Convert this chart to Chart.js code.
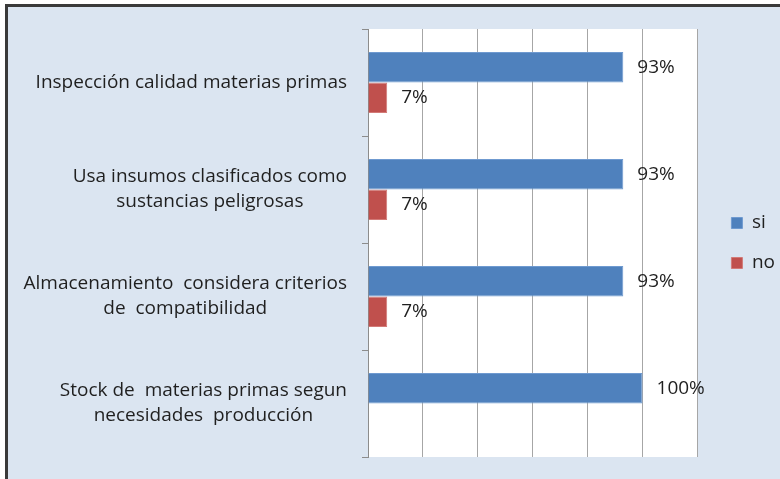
<!DOCTYPE html>
<html>
<head>
<meta charset="utf-8">
<script src="https://cdn.jsdelivr.net/npm/chart.js@4/dist/chart.umd.min.js"></script>
<style>
    html, body { margin: 0; padding: 0; background: #ffffff; overflow: hidden; }
    #frame {
        position: absolute;
        left: 5px;
        top: 4px;
        width: 772px;
        height: 472px;
        overflow: hidden;
        border-top: 3px solid #3a3a3a;
        border-left: 3px solid #3a3a3a;
        background: #dbe5f1;
    }
</style>
</head>
<body>
<div id="frame"><canvas id="myChart" width="783" height="472"></canvas></div>
<script>
const categories = [
    ["Inspección calidad materias primas"],
    ["Usa insumos clasificados como", "sustancias peligrosas"],
    ["Almacenamiento  considera criterios", "de  compatibilidad"],
    ["Stock de  materias primas segun", "necesidades  producción"]
];
const siValues = [0.93, 0.93, 0.93, 1.00];
const noValues = [0.07, 0.07, 0.07, 0];
const seriesNames = ["si", "no"];
const textFont = "'Open Sans', sans-serif";

// fondo blanco del area de trazado
const plotBackground = {
    id: "plotBackground",
    beforeDraw(chart) {
        const a = chart.chartArea;
        const ctx = chart.ctx;
        ctx.save();
        ctx.fillStyle = "#ffffff";
        ctx.fillRect(a.left, a.top, a.right - a.left, a.bottom - a.top);
        ctx.restore();
    }
};

// etiquetas de categoria: bloque alineado a la derecha, lineas centradas
const categoryLabels = {
    id: "categoryLabels",
    afterDraw(chart) {
        const ctx = chart.ctx;
        const yScale = chart.scales.y;
        const rightX = chart.chartArea.left - 21;
        const lineH = 25;
        ctx.save();
        ctx.font = "19px " + textFont;
        ctx.fillStyle = "#1f1f1f";
        ctx.textAlign = "center";
        ctx.textBaseline = "middle";
        categories.forEach((lines, i) => {
            const yc = yScale.getPixelForValue(i);
            let maxW = 0;
            lines.forEach(l => { maxW = Math.max(maxW, ctx.measureText(l).width); });
            const cx = rightX - maxW / 2;
            const y0 = yc - (lines.length - 1) * lineH / 2;
            lines.forEach((l, k) => ctx.fillText(l, cx, y0 + k * lineH));
        });
        ctx.restore();
    }
};

// etiquetas de valor junto a cada barra
const valueLabels = {
    id: "valueLabels",
    afterDatasetsDraw(chart) {
        const ctx = chart.ctx;
        ctx.save();
        ctx.font = "19px " + textFont;
        ctx.fillStyle = "#1f1f1f";
        ctx.textAlign = "left";
        ctx.textBaseline = "middle";
        chart.data.datasets.forEach((ds, di) => {
            chart.getDatasetMeta(di).data.forEach((bar, i) => {
                const v = ds.data[i];
                if (!v) return;
                ctx.fillText(Math.round(v * 100) + "%", bar.x + 14, bar.y);
            });
        });
        ctx.restore();
    }
};

const ctx = document.getElementById("myChart").getContext("2d");
const myChart = new Chart(ctx, {
    type: "bar",
    data: {
        labels: categories,
        datasets: [{
            label: seriesNames[0],
            data: siValues,
            backgroundColor: "#4f81bd",
            borderColor: "#6f9ad0",
            borderWidth: 1
        }, {
            label: seriesNames[1],
            data: noValues,
            backgroundColor: "#c0504d",
            borderColor: "#d27a77",
            borderWidth: 1
        }]
    },
    options: {
        indexAxis: "y",
        responsive: false,
        animation: false,
        layout: { padding: { top: 22, bottom: 22, left: 0, right: 6 } },
        datasets: { bar: { categoryPercentage: 0.57, barPercentage: 1.0 } },
        scales: {
            x: {
                min: 0,
                max: 1.2,
                ticks: { display: false, stepSize: 0.2 },
                grid: { color: "#a6a6a6", lineWidth: 1, drawTicks: false },
                border: { display: false }
            },
            y: {
                ticks: { display: false },
                grid: { display: true, drawOnChartArea: false, offset: true, tickLength: 6, color: "#8c8c8c" },
                border: { display: true, color: "#8c8c8c" },
                afterFit(scale) { scale.width = 360; }
            },
            spacer: {
                type: "linear",
                position: "right",
                display: true,
                ticks: { display: false },
                grid: { display: false, drawTicks: false },
                border: { display: false },
                afterFit(scale) { scale.width = 13; }
            }
        },
        plugins: {
            legend: {
                position: "right",
                align: "center",
                labels: {
                    boxWidth: 11,
                    boxHeight: 11,
                    padding: 21,
                    color: "#1f1f1f",
                    font: { family: textFont, size: 19 }
                }
            },
            tooltip: { enabled: false }
        }
    },
    plugins: [plotBackground, categoryLabels, valueLabels]
});
</script>
</body>
</html>
